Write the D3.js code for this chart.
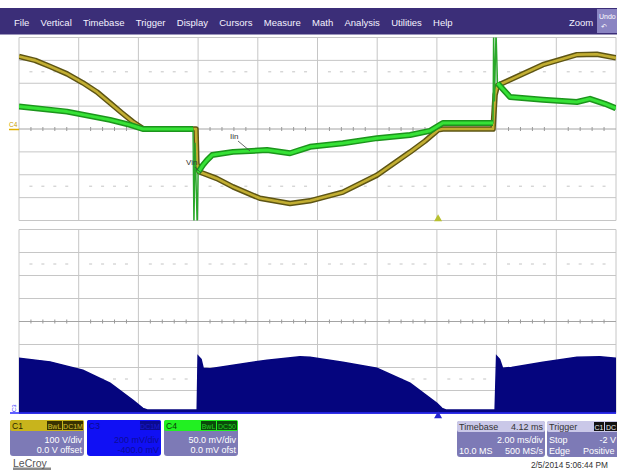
<!DOCTYPE html>
<html><head><meta charset="utf-8">
<script src="https://cdn.jsdelivr.net/npm/d3@7"></script>
<style>body{margin:0;background:#fff}svg{display:block}text{font-family:"Liberation Sans",Arial,sans-serif}</style>
</head><body><svg id="c" width="617" height="472"></svg>
<script>
// ---------- data ----------
const menuItems = ["File","Vertical","Timebase","Trigger","Display","Cursors","Measure","Math","Analysis","Utilities","Help"];
// C1 (V) vs time (ms)
const c1Time = [0,0.54,1.04,1.61,2.14,2.61,3.05,3.45,3.82,4.15,4.3,5.93,5.96,6.03,6.62,7.17,8.07,9.08,9.75,10.85,11.99,13.1,13.6,14.04,14.2,15.88,15.95,16.03,16.45,17.55,18.69,19.36,20];
const c1Volt = [317,300,273,241,202,162,114,70,31,2,0,0,-150,-187,-216,-253,-303,-326,-314,-276,-202,-101,-53,-4,0,0,150,190,215,281,325,327,311];
// C4 (mV) vs time (ms)
const c4Time = [0,1.61,3.05,3.72,4.15,5.83,5.86,5.9,5.97,6.0,6.16,6.3,6.47,7.17,8.31,9.08,9.41,9.75,10.85,11.99,13.1,13.77,14.2,15.88,15.9,15.93,15.98,16.03,16.45,17.55,18.69,19.13,19.63,19.97,20];
const c4mV   = [49,38,20,9,0,0,-215,-30,-215,-95,-79,-68,-57,-50,-46,-53,-46,-39,-31,-20,-13,-4,13,13,215,60,215,100,70,64,59,66,55,46,45];
// C3 (mV) vs time (ms)
const c3Time = [0,1.04,2.14,3.05,3.82,4.15,4.3,5.93,5.97,6.0,6.1,6.17,6.4,7.17,8.31,9.41,9.75,10.85,11.99,13.1,14.0,14.17,14.3,15.88,15.95,16.0,16.1,16.2,16.5,17.55,18.69,19.46,20];
const c3mV   = [-319,-351,-424,-537,-686,-755,-770,-770,-770,-301,-330,-406,-410,-380,-336,-307,-310,-354,-406,-537,-712,-755,-770,-770,-770,-301,-330,-406,-400,-354,-310,-307,-319];
// time windows of the fast switching spikes (drawn as thin lines)
const spikeWindows = [[5.84,5.99],[15.89,16.02]];
const c1Info = ["C1","BwL","DC1M","100 V/div","0.0 V offset"];
const c3Info = ["C3","","DC1M","200 mV/div","-400.0 mV"];
const c4Info = ["C4","BwL","DC50","50.0 mV/div","0.0 mV ofst"];
const tbInfo = ["Timebase","4.12 ms","2.00 ms/div","10.0 MS","500 MS/s"];
const trInfo = ["Trigger","C1","DC","Stop","-2 V","Edge","Positive"];
const dateText = "2/5/2014 5:06:44 PM";

// ---------- scales ----------
const svg = d3.select("#c");
const x = d3.scaleLinear().domain([0,20]).range([19,616]);
const topDiv = d3.scaleLinear().domain([-4,4]).range([220.5,37.5]);
const botDiv = d3.scaleLinear().domain([-4,4]).range([413.5,229.5]);
const y1 = d3.scaleLinear().domain([-400,400]).range(topDiv.range());
const y4 = d3.scaleLinear().domain([-200,200]).range(topDiv.range());
const y3 = d3.scaleLinear().domain([-800,800]).range(botDiv.range());

// ---------- menu ----------
svg.append("rect").attr("x",0).attr("y",8).attr("width",617).attr("height",26.5).attr("fill","#3b2e78");
let mx = 14;
menuItems.forEach(m=>{
  const t = svg.append("text").attr("x",mx).attr("y",25.5).attr("fill","#f4f2ff").attr("font-size",9.5).text(m);
  mx += t.node().getComputedTextLength()+11.3;
});
svg.append("text").attr("x",569).attr("y",25.5).attr("fill","#f4f2ff").attr("font-size",9.5).text("Zoom");
svg.append("rect").attr("x",597).attr("y",9).attr("width",20).attr("height",24).attr("fill","#8a84c2");
svg.append("text").attr("x",599).attr("y",19).attr("fill","#fff").attr("font-size",7).text("Undo");
svg.append("text").attr("x",601).attr("y",29).attr("fill","#fff").attr("font-size",7).text("↶");

// ---------- grids ----------
function grid(yd, name){
  const g = svg.append("g");
  const [yb, yt] = yd.range();
  x.ticks(10).forEach(t=>{
    g.append("line").attr("x1",x(t)).attr("x2",x(t)).attr("y1",yt).attr("y2",yb).attr("stroke","#c6c6c6").attr("stroke-width",1);
  });
  yd.ticks(8).forEach(v=>{
    g.append("line").attr("x1",19).attr("x2",616).attr("y1",yd(v)).attr("y2",yd(v))
      .attr("stroke", v===0 ? "#a4a4a4" : "#c6c6c6").attr("stroke-width",1);
  });
  const minor = d3.range(0,20.001,0.4).filter(t=>Math.abs(t/2-Math.round(t/2))>0.01);
  minor.forEach(t=>{
    g.append("line").attr("x1",x(t)).attr("x2",x(t)).attr("y1",yd(0)-2).attr("y2",yd(0)+2).attr("stroke","#9a9a9a");
    [2.5,-2.5].forEach(v=>{
      g.append("line").attr("x1",x(t)-1.5).attr("x2",x(t)+1.5).attr("y1",yd(v)).attr("y2",yd(v)).attr("stroke","#c4c4c4");
    });
  });
  svg.append("clipPath").attr("id",name).append("rect").attr("x",19).attr("y",yt).attr("width",597).attr("height",yb-yt);
  return g;
}
grid(topDiv,"clipTop");
grid(botDiv,"clipBot");

// ---------- traces ----------
const inSpike = t => spikeWindows.some(w=>t>w[0]&&t<w[1]);
const c1Data = c1Time.map((t,i)=>[t,c1Volt[i]]);
const c4Data = c4Time.map((t,i)=>[t,c4mV[i]]);
const c3Data = c3Time.map((t,i)=>[t,c3mV[i]]);
const gTop = svg.append("g").attr("clip-path","url(#clipTop)");
const l1 = d3.line().x(d=>x(d[0])).y(d=>y1(d[1]));
const l4 = d3.line().x(d=>x(d[0])).y(d=>y4(d[1]));
const l4band = d3.line().defined(d=>!inSpike(d[0])).x(d=>x(d[0])).y(d=>y4(d[1]));
gTop.append("path").attr("d",l1(c1Data)).attr("fill","none").attr("stroke","#5e5514").attr("stroke-width",5.5).attr("stroke-linejoin","round");
gTop.append("path").attr("d",l1(c1Data)).attr("fill","none").attr("stroke","#c2ae32").attr("stroke-width",2.6).attr("stroke-linejoin","round");
gTop.append("path").attr("d",l4(c4Data)).attr("fill","none").attr("stroke","#2aa82a").attr("stroke-width",1.4);
gTop.append("path").attr("d",l4band(c4Data)).attr("fill","none").attr("stroke","#1c951c").attr("stroke-width",6).attr("stroke-linejoin","round");
gTop.append("path").attr("d",l4band(c4Data)).attr("fill","none").attr("stroke","#36e236").attr("stroke-width",3).attr("stroke-linejoin","round");

const gBot = svg.append("g").attr("clip-path","url(#clipBot)");
const a3 = d3.area().x(d=>x(d[0])).y0(y3(-800)).y1(d=>y3(d[1]));
gBot.append("path").attr("d",a3(c3Data)).attr("fill","#05057e").attr("stroke","#05057e").attr("stroke-width",1.5);
svg.append("line").attr("x1",19).attr("x2",616).attr("y1",413).attr("y2",413).attr("stroke","#2a2aff").attr("stroke-width",1.5);

// trace labels
svg.append("text").attr("x",230).attr("y",139).attr("font-size",8).attr("fill","#333").text("Iin");
svg.append("line").attr("x1",238).attr("y1",141).attr("x2",250).attr("y2",151).attr("stroke","#444").attr("stroke-width",0.8);
svg.append("text").attr("x",186).attr("y",165).attr("font-size",8).attr("fill","#333").text("Vin");
svg.append("line").attr("x1",195).attr("y1",167).attr("x2",201).attr("y2",173).attr("stroke","#444").attr("stroke-width",0.8);

// channel markers
svg.append("text").attr("x",9).attr("y",127).attr("font-size",6.5).attr("fill","#c8a000").text("C4");
svg.append("line").attr("x1",9).attr("x2",19).attr("y1",129.5).attr("y2",129.5).attr("stroke","#e0b000").attr("stroke-width",1.5);
svg.append("text").attr("transform","translate(16,412) rotate(-90)").attr("font-size",6).attr("fill","#2a2aff").text("C3");
svg.append("line").attr("x1",10).attr("x2",19).attr("y1",413).attr("y2",413).attr("stroke","#2a2aff").attr("stroke-width",1.5);
const tri = d3.symbol(d3.symbolTriangle).size(28);
svg.append("path").attr("d",tri()).attr("transform",`translate(${x(14.04)},219)`).attr("fill","#b8c030");
svg.append("path").attr("d",tri()).attr("transform",`translate(${x(14.04)},416)`).attr("fill","#2424d0");

// ---------- info panels ----------
function chanPanel(px, info, head, badge, badgeText, body, bodyText, nameColor){
  const g = svg.append("g");
  g.append("rect").attr("x",px).attr("y",420).attr("width",74).attr("height",36).attr("rx",3).attr("fill",body);
  g.append("rect").attr("x",px).attr("y",420).attr("width",74).attr("height",11).attr("rx",2).attr("fill",head);
  g.append("text").attr("x",px+2).attr("y",429).attr("font-size",8.5).attr("fill",nameColor).text(info[0]);
  if(info[1]){
    g.append("rect").attr("x",px+37).attr("y",421).attr("width",15).attr("height",9).attr("fill",badge);
    g.append("text").attr("x",px+44.5).attr("y",428.5).attr("text-anchor","middle").attr("font-size",7).attr("fill",badgeText).text(info[1]);
  }
  g.append("rect").attr("x",px+53).attr("y",421).attr("width",20).attr("height",9).attr("fill",badge);
  g.append("text").attr("x",px+63).attr("y",428.5).attr("text-anchor","middle").attr("font-size",7).attr("fill",badgeText).text(info[2]);
  g.append("text").attr("x",px+72).attr("y",443).attr("text-anchor","end").attr("font-size",9).attr("fill",bodyText).text(info[3]);
  g.append("text").attr("x",px+72).attr("y",453).attr("text-anchor","end").attr("font-size",9).attr("fill",bodyText).text(info[4]);
}
chanPanel(10, c1Info, "#c8b41c", "#3a3300", "#d8c430", "#7d7ab6", "#ffffff", "#2a2500");
chanPanel(87, c3Info, "#1010f4", "#0a0a90", "#1a1ad0", "#1010f4", "#0c0c9a", "#0a0a90");
chanPanel(164, c4Info, "#22f022", "#0a4a0a", "#22d022", "#7d7ab6", "#ffffff", "#0a3a0a");

// timebase
const tb = svg.append("g");
tb.append("rect").attr("x",457).attr("y",421).attr("width",88).attr("height",36).attr("rx",3).attr("fill","#7d7ab6");
tb.append("rect").attr("x",457).attr("y",421).attr("width",88).attr("height",11).attr("rx",2).attr("fill","#cac8e8");
tb.append("text").attr("x",459).attr("y",430).attr("font-size",9).attr("fill","#333").text(tbInfo[0]);
tb.append("text").attr("x",543).attr("y",430).attr("text-anchor","end").attr("font-size",9).attr("fill","#333").text(tbInfo[1]);
tb.append("text").attr("x",543).attr("y",443).attr("text-anchor","end").attr("font-size",9).attr("fill","#fff").text(tbInfo[2]);
tb.append("text").attr("x",459).attr("y",454).attr("font-size",9).attr("fill","#fff").text(tbInfo[3]);
tb.append("text").attr("x",543).attr("y",454).attr("text-anchor","end").attr("font-size",9).attr("fill","#fff").text(tbInfo[4]);
// trigger
const tr = svg.append("g");
tr.append("rect").attr("x",547).attr("y",421).attr("width",76).attr("height",36).attr("rx",3).attr("fill","#7d7ab6");
tr.append("rect").attr("x",547).attr("y",421).attr("width",76).attr("height",11).attr("rx",2).attr("fill","#cac8e8");
tr.append("text").attr("x",549).attr("y",430).attr("font-size",9).attr("fill","#333").text(trInfo[0]);
tr.append("rect").attr("x",594).attr("y",422).attr("width",10).attr("height",9).attr("fill","#111");
tr.append("text").attr("x",599).attr("y",429.5).attr("text-anchor","middle").attr("font-size",7).attr("fill","#eee").text(trInfo[1]);
tr.append("rect").attr("x",605).attr("y",422).attr("width",14).attr("height",9).attr("fill","#111");
tr.append("text").attr("x",606).attr("y",429.5).attr("font-size",7).attr("fill","#eee").text(trInfo[2]);
tr.append("text").attr("x",549).attr("y",443).attr("font-size",9).attr("fill","#fff").text(trInfo[3]);
tr.append("text").attr("x",616).attr("y",443).attr("text-anchor","end").attr("font-size",9).attr("fill","#fff").text(trInfo[4]);
tr.append("text").attr("x",549).attr("y",454).attr("font-size",9).attr("fill","#fff").text(trInfo[5]);
tr.append("text").attr("x",583).attr("y",454).attr("font-size",9).attr("fill","#fff").text(trInfo[6]);

svg.append("text").attr("x",608).attr("y",468).attr("text-anchor","end").attr("font-size",8.3).attr("fill","#333").text(dateText);
svg.append("rect").attr("x",13).attr("y",467.5).attr("width",38).attr("height",2.5).attr("fill","#8a8a8a");
svg.append("text").attr("x",13).attr("y",467).attr("font-size",10.5).attr("fill","#555").text("LeCroy");
</script></body></html>
